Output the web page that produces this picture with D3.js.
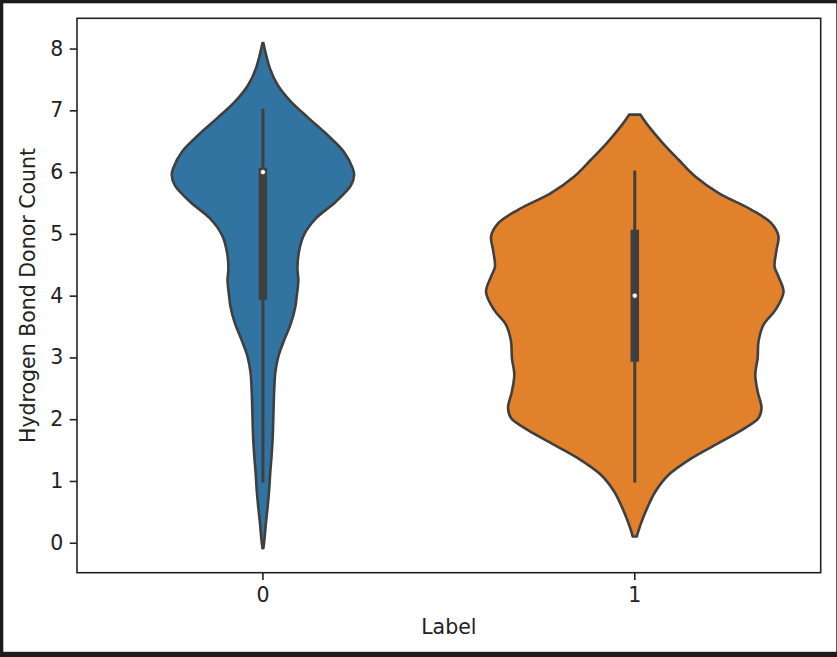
<!DOCTYPE html>
<html lang="en">
<head>
    <meta charset="UTF-8">
    <title>Hydrogen Bond Donor Count by Label</title>
    <script src="https://d3js.org/d3.v7.min.js"></script>
    <style>
        body { margin: 0; background: #1c1c1c; }
        text { font-family: "DejaVu Sans", sans-serif; fill: #222; }
    </style>
</head>
<body>
<script>

    // categories on x axis
    var categories = ['0', '1'];
    var yTicks = [0, 1, 2, 3, 4, 5, 6, 7, 8];

    // violin outlines: y value and relative half width (1 = widest violin)
    var label0Y = [8.09, 7.68, 7.41, 7.14, 6.87, 6.60, 6.33, 6.06, 5.95, 5.78, 5.52, 5.25, 4.98, 4.71, 4.44,
                   4.25, 4.01, 3.82, 3.55, 3.28, 3.01, 2.75, 2.48, 2.21, 1.94, 1.67, 1.40, 1.13, 0.86, 0.59,
                   0.32, 0.05, -0.09];
    var label0W = [0.003, 0.047, 0.099, 0.188, 0.309, 0.434, 0.544, 0.604, 0.613, 0.591, 0.490, 0.356, 0.275,
                   0.242, 0.232, 0.238, 0.228, 0.218, 0.188, 0.143, 0.103, 0.083, 0.076, 0.072, 0.069, 0.065,
                   0.058, 0.049, 0.042, 0.032, 0.020, 0.010, 0.003];

    var label1Y = [6.93, 6.74, 6.47, 6.20, 5.93, 5.66, 5.39, 5.17, 4.96, 4.74, 4.47, 4.31, 4.06, 3.77, 3.53,
                   3.26, 2.99, 2.72, 2.45, 2.18, 2.02, 1.86, 1.64, 1.37, 1.10, 0.83, 0.56, 0.29, 0.10];
    var label1W = [0.038, 0.094, 0.188, 0.295, 0.407, 0.564, 0.785, 0.919, 0.966, 0.953, 0.940, 0.966, 1.000,
                   0.946, 0.866, 0.832, 0.826, 0.810, 0.826, 0.852, 0.832, 0.743, 0.584, 0.383, 0.228, 0.139,
                   0.083, 0.038, 0.013];

    // inner box stats per category
    var q1 = [4, 3];
    var medians = [6, 4];
    var q3 = [6, 5];
    var whiskLow = [1, 1];
    var whiskHigh = [7, 6];

    var colors = ['#3274a1', '#e1812c'];
    var gray = '#3f3f3f';

    var width = 837, height = 657;
    var plotLeft = 77, plotRight = 820.7, plotTop = 18.3, plotBottom = 572.7;

    var svg = d3.select('body')
        .append('svg')
        .attr('width', width)
        .attr('height', height);

    // white figure area inside dark frame
    svg.append('rect')
        .attr('x', 3.3)
        .attr('y', 3.3)
        .attr('width', 833)
        .attr('height', 648.5)
        .attr('fill', '#fff');

    var x = d3.scaleBand().domain(categories).range([plotLeft, plotRight]).padding(0);
    var y = d3.scaleLinear().domain([-0.485, 8.49]).range([plotBottom, plotTop]);
    var w = d3.scaleLinear().domain([0, 1]).range([0, x.bandwidth() * 0.4]);

    var violins = [
        { cat: categories[0], ys: label0Y, ws: label0W },
        { cat: categories[1], ys: label1Y, ws: label1W }
    ];

    violins.forEach(function(v, i) {
        var cx = x(v.cat) + x.bandwidth() / 2;
        var pts = v.ys.map(function(d, j) { return [d, v.ws[j]]; });

        var area = d3.area()
            .curve(d3.curveCatmullRom)
            .y(function(d) { return y(d[0]); })
            .x0(function(d) { return cx - w(d[1]); })
            .x1(function(d) { return cx + w(d[1]); });

        svg.append('path')
            .datum(pts)
            .attr('d', area)
            .attr('fill', colors[i])
            .attr('stroke', gray)
            .attr('stroke-width', 2.6)
            .attr('stroke-linejoin', 'round');

        // whisker
        svg.append('line')
            .attr('x1', cx).attr('x2', cx)
            .attr('y1', y(whiskLow[i])).attr('y2', y(whiskHigh[i]))
            .attr('stroke', gray)
            .attr('stroke-width', 3)
            .attr('stroke-linecap', 'square');

        // box
        svg.append('line')
            .attr('x1', cx).attr('x2', cx)
            .attr('y1', y(q1[i])).attr('y2', y(q3[i]))
            .attr('stroke', gray)
            .attr('stroke-width', 8.5)
            .attr('stroke-linecap', 'square');

        // median dot
        svg.append('circle')
            .attr('cx', cx)
            .attr('cy', y(medians[i]))
            .attr('r', 2.6)
            .attr('fill', '#fff')
            .attr('stroke', gray)
            .attr('stroke-width', 0.8);
    });

    // axes
    var yAxis = svg.append('g')
        .attr('transform', 'translate(' + plotLeft + ',0)')
        .call(d3.axisLeft(y).tickValues(yTicks).tickSize(7.3).tickPadding(6.5));

    var xAxis = svg.append('g')
        .attr('transform', 'translate(0,' + plotBottom + ')')
        .call(d3.axisBottom(x).tickSize(7.3).tickPadding(7.5));

    [yAxis, xAxis].forEach(function(g) {
        g.select('.domain').remove();
        g.selectAll('.tick line').attr('stroke', '#222').attr('stroke-width', 1.6);
        g.selectAll('.tick text')
            .attr('fill', '#222')
            .style('font-size', '20.5px')
            .style('font-family', '"DejaVu Sans", sans-serif');
    });

    // spines
    svg.append('rect')
        .attr('x', plotLeft)
        .attr('y', plotTop)
        .attr('width', plotRight - plotLeft)
        .attr('height', plotBottom - plotTop)
        .attr('fill', 'none')
        .attr('stroke', '#222')
        .attr('stroke-width', 1.6);

    // axis labels
    svg.append('text')
        .attr('x', (plotLeft + plotRight) / 2)
        .attr('y', 634)
        .attr('text-anchor', 'middle')
        .style('font-size', '20.5px')
        .text('Label');

    svg.append('text')
        .attr('transform', 'translate(35,' + ((plotTop + plotBottom) / 2) + ') rotate(-90)')
        .attr('text-anchor', 'middle')
        .style('font-size', '20.5px')
        .text('Hydrogen Bond Donor Count');

</script>
</body>
</html>
